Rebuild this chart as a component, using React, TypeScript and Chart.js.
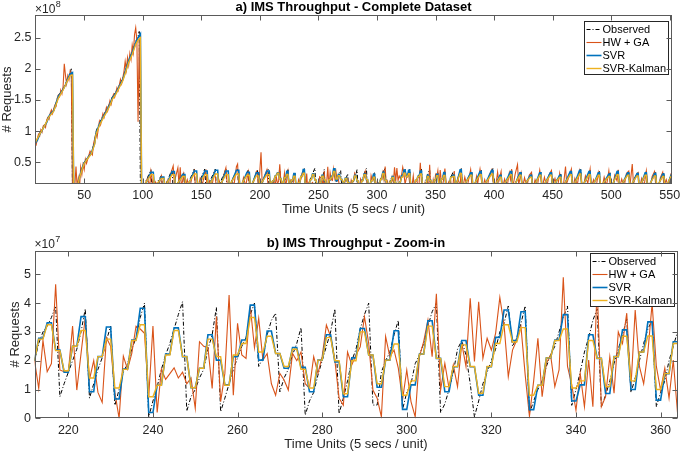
import React, { useEffect, useRef } from "react";
import { Chart, registerables } from "chart.js";

Chart.register(...registerables);

// ================= DATA (all values in units of 1e7 requests) =================
type Pt = [number, number];

// ---- b) Zoom-in window: one value per time unit, starting at ZOOM_START ----
const ZOOM_START = 212;

const observedZoom = [
  2.0, 2.6, 3.0, 3.2, 3.5, 3.9, 0.75, 1.2, 1.6, 2.0,
  2.4, 3.0, 3.8, 0.7, 1.2, 1.7, 2.1, 2.7, 3.2, 0.45,
  1.0, 1.6, 1.9, 2.4, 2.8, 3.5, 4.0, 0.05, 0.6, 1.1,
  1.7, 2.2, 2.6, 3.1, 3.6, 4.05, 0.25, 0.75, 1.0, 1.4,
  1.7, 2.4, 2.9, 3.85, 0.23, 0.7, 1.2, 1.7, 2.1, 2.5,
  2.8, 3.6, 4.0, 1.8, 2.1, 2.9, 3.4, 3.65, 0.92, 1.4,
  1.7, 2.2, 2.6, 3.15, 0.11, 0.6, 0.9, 1.5, 2.0, 2.5,
  3.0, 3.8, 0.16, 0.7, 1.3, 2.0, 2.4, 3.1, 3.6, 4.0,
  0.46, 0.46, 1.6, 2.0, 2.3, 2.9, 3.4, 0.3, 0.9, 1.2,
  1.9, 2.2, 2.6, 3.2, 3.7, 4.0, 0.2, 0.5, 1.0, 1.6,
  2.4, 2.7, 2.2, 1.2, 0.05, 0.6, 1.2, 1.6, 2.0, 2.4,
  3.0, 3.3, 3.9, 2.5, 2.8, 3.3, 3.9, 0.18, 0.6, 1.0,
  1.3, 1.8, 2.2, 2.5, 3.0, 3.5, 3.9, 0.45, 1.0, 1.6,
  2.3, 2.8, 3.4, 3.8, 0.4, 0.8, 1.3, 1.9, 2.4, 2.9,
  3.45, 0.9, 1.4, 2.0, 2.6, 3.1, 3.4, 0.4, 0.9, 1.3,
  2.0, 2.5, 3.0,
];

const hwgaZoom = [
  2.0, 1.04, 2.7, 1.62, 1.9, 4.65, 1.68, 1.62, 1.6, 3.2,
  0.98, 2.25, 3.5, 1.35, 2.0, 0.9, 0.55, 2.8, 2.5, 0.9,
  0.0, 2.16, 1.7, 2.25, 3.2, 3.1, 2.95, 0.75, 3.2, 0.2,
  1.7, 1.35, 1.55, 1.75, 1.4, 1.6, 1.2, 1.4, 0.35, 2.66,
  2.5, 2.45, 1.04, 3.53, 0.58, 1.56, 4.28, 0.8, 3.3, 2.2,
  2.08, 3.9, 2.45, 3.47, 2.02, 2.25, 1.2, 0.8, 1.56, 1.33,
  0.98, 2.25, 2.0, 2.3, 1.2, 1.04, 2.14, 1.56, 2.14, 3.24,
  2.84, 2.02, 0.7, 0.45, 2.3, 1.85, 2.2, 2.48, 3.53, 2.6,
  0.98, 0.7, 0.05, 2.84, 2.14, 2.37, 1.74, 0.64, 1.68, 0.58,
  0.05, 2.14, 2.66, 3.41, 2.14, 4.32, 0.98, 1.91, 1.04, 1.85,
  1.1, 2.6, 1.8, 4.17, 1.97, 4.05, 2.08, 2.78, 2.37, 2.95,
  4.2, 3.24, 1.45, 2.37, 2.72, 3.18, 1.5, 0.07, 1.3, 2.78,
  0.75, 1.91, 2.2, 1.1, 1.68, 4.9, 1.8, 1.16, 0.28, 1.56,
  0.4, 2.02, 0.4, 4.6, 0.4, 0.75, 2.14, 0.87, 3.0, 2.6,
  3.65, 1.1, 3.76, 1.8, 1.2, 2.3, 3.99, 1.8, 0.98, 1.74,
  0.7, 2.02, 0.2,
];

const svrZoom = [
  2.0,
  2.78, 2.78, 3.32, 3.32, 2.37, 2.37, 1.6, 1.6, 2.5, 2.5,
  3.53, 3.53, 0.92, 0.92, 2.14, 2.14, 3.17, 3.17, 0.67, 0.67,
  1.71, 1.71, 2.72, 2.72, 3.82, 3.82, 0.2, 0.2, 1.15, 1.15,
  2.23, 2.23, 3.14, 3.14, 2.14, 2.14, 1.06, 1.06, 1.74, 1.74,
  2.9, 2.9, 2.02, 2.02, 1.16, 1.16, 2.14, 2.14, 2.72, 2.72,
  3.93, 3.93, 2.02, 2.02, 3.03, 3.03, 2.25, 2.25, 1.74, 1.74,
  2.46, 2.46, 1.77, 1.77, 0.92, 0.92, 2.02, 2.02, 2.9, 2.9,
  1.96, 1.96, 0.75, 0.75, 2.1, 2.1, 3.12, 3.12, 2.2, 2.2,
  1.08, 1.08, 2.02, 2.02, 3.04, 3.04, 0.31, 0.31, 1.16, 1.16,
  2.23, 2.23, 3.39, 3.39, 2.08, 2.08, 0.92, 0.92, 1.79, 1.79,
  2.7, 2.7, 1.79, 1.79, 0.8, 0.8, 1.79, 1.79, 2.81, 2.81,
  3.76, 3.76, 2.7, 2.7, 3.7, 3.7, 0.3, 0.3, 1.15, 1.15,
  2.1, 2.1, 2.72, 2.72, 3.6, 3.6, 0.6, 0.6, 1.16, 1.16,
  2.9, 2.9, 2.08, 2.08, 0.86, 0.86, 2.14, 2.14, 3.07, 3.07,
  1.0, 1.0, 2.3, 2.3, 3.35, 3.35, 0.63, 0.63, 1.55, 1.55,
  2.66, 2.66,
];

const kalmanZoom = [
  2.0,
  2.75, 2.75, 3.25, 3.25, 2.35, 2.35, 1.65, 1.65, 2.5, 2.5,
  3.05, 3.05, 1.4, 1.4, 2.14, 2.14, 2.75, 2.75, 1.05, 1.05,
  1.7, 1.7, 2.7, 2.7, 3.25, 3.25, 0.75, 0.75, 1.15, 1.15,
  2.2, 2.2, 3.05, 3.05, 2.14, 2.14, 1.06, 1.06, 1.74, 1.74,
  2.75, 2.75, 2.14, 2.14, 1.15, 1.15, 2.2, 2.2, 2.6, 2.6,
  3.5, 3.5, 2.3, 2.3, 2.85, 2.85, 2.25, 2.25, 1.8, 1.8,
  2.4, 2.4, 1.7, 1.7, 1.05, 1.05, 2.02, 2.02, 2.8, 2.8,
  2.0, 2.0, 0.85, 0.85, 2.0, 2.0, 3.0, 3.0, 2.2, 2.2,
  1.2, 1.2, 2.02, 2.02, 2.58, 2.58, 0.8, 0.8, 1.3, 1.3,
  2.23, 2.23, 3.2, 3.2, 2.08, 2.08, 1.1, 1.1, 1.8, 1.8,
  2.55, 2.55, 1.8, 1.8, 0.87, 0.87, 1.8, 1.8, 2.6, 2.6,
  3.25, 3.25, 2.65, 2.65, 3.15, 3.15, 0.8, 0.8, 1.15, 1.15,
  2.1, 2.1, 2.7, 2.7, 3.1, 3.1, 1.05, 1.05, 1.3, 1.3,
  2.7, 2.7, 2.08, 2.08, 1.1, 1.1, 2.14, 2.14, 2.85, 2.85,
  1.3, 1.3, 2.3, 2.3, 2.86, 2.86, 1.0, 1.0, 1.55, 1.55,
  2.6, 2.6,
];

// ---- a) Complete dataset: readings [time unit, value] before and after the zoom window ----
const observedEarly: Pt[] = [
  [8, 8.0], [10, 8.6], [12, 9.7], [14, 10.2], [16, 10.9], [18, 11.5], [20, 12.6], [22, 13.0],
  [24, 13.3], [26, 14.6], [28, 15.8], [30, 16.2], [32, 16.8], [34, 17.5], [36, 18.6], [38, 19.4],
  [39, 20.0], [40, 1.0], [41, 0.5], [43, 0.8], [45, 1.5], [46, 2.7], [48, 4.0], [50, 5.0],
  [53, 5.8], [56, 6.5], [59, 8.3], [60, 9.9], [63, 11.3], [66, 12.4], [69, 13.4], [72, 14.5],
  [74, 15.5], [77, 16.3], [80, 17.4], [83, 18.5], [86, 20.4], [88, 21.5], [91, 22.8], [94, 24.4],
  [96, 25.2], [97, 26.0], [98, 1.0], [100, 0.8], [107, 3.8], [108, 0.4], [116, 2.9], [117, 0.3],
  [125, 3.8], [126, 0.5], [135, 3.3], [136, 0.3], [144, 3.9], [145, 0.4], [153, 3.9], [154, 0.5],
  [162, 3.9], [163, 0.3], [171, 3.9], [172, 0.6], [181, 3.9], [182, 0.3], [190, 3.7], [191, 0.4],
  [198, 3.7], [199, 0.6], [207, 3.9], [208, 0.4], [210, 1.2],
];

const observedLate: Pt[] = [
  [365, 3.4], [366, 0.5], [368, 1.6], [370, 2.8], [372, 4.0], [373, 0.4], [376, 1.8], [379, 2.9],
  [381, 3.5], [382, 0.6], [385, 2.0], [387, 2.9], [389, 3.7], [390, 0.3], [393, 1.5], [396, 2.7],
  [399, 4.0], [400, 0.5], [403, 2.2], [406, 3.1], [407, 0.4], [410, 1.6], [413, 2.8], [415, 3.7],
  [416, 0.3], [419, 2.0], [421, 2.8], [423, 3.5], [424, 0.5], [427, 1.5], [430, 2.6], [432, 3.1],
  [433, 0.2], [436, 1.8], [438, 2.6], [440, 3.5], [441, 0.4], [444, 1.6], [447, 2.8], [449, 3.5],
  [450, 0.6], [453, 2.0], [455, 2.5], [457, 3.1], [458, 0.3], [461, 1.8], [464, 2.9], [466, 3.7],
  [467, 0.4], [470, 2.0], [472, 3.0], [474, 4.0], [475, 0.5], [478, 1.9], [480, 2.8], [482, 3.7],
  [483, 0.3], [486, 1.7], [488, 2.6], [490, 3.5], [491, 0.6], [494, 1.6], [497, 2.7], [499, 3.3],
  [500, 0.4], [503, 2.2], [505, 2.9], [506, 3.7], [507, 0.3], [510, 1.5], [513, 2.7], [515, 3.5],
  [516, 0.5], [519, 2.1], [521, 2.8], [523, 3.4], [524, 0.4], [527, 2.0], [529, 2.9], [530, 3.5],
  [531, 0.3], [534, 1.8], [536, 2.7], [538, 3.4], [539, 0.5], [542, 2.1], [544, 2.8], [545, 3.3],
  [546, 0.4], [549, 1.9], [552, 3.4],
];

const hwgaEarly: Pt[] = [
  [8, 8.0], [9, 7.8], [10, 8.8], [11, 9.5], [12, 9.2], [13, 10.2], [14, 9.8], [15, 10.8], [16, 11.0],
  [17, 10.6], [18, 11.8], [19, 12.2], [20, 11.9], [21, 12.9], [22, 13.4], [23, 12.8], [24, 13.6],
  [25, 14.2], [26, 14.0], [27, 15.3], [28, 15.8], [29, 15.5], [30, 16.6], [31, 16.0], [32, 17.2],
  [33, 20.8], [34, 19.0], [35, 17.6], [36, 18.9], [37, 18.2], [38, 19.6], [39, 19.0], [40, 1.0],
  [41, 0.3], [42, 1.2], [43, 4.3], [44, 1.0], [45, 2.4], [46, 0.8], [47, 4.2], [48, 3.0], [49, 4.6],
  [50, 3.8], [51, 5.5], [52, 4.8], [53, 5.5], [55, 6.8], [57, 6.2], [58, 8.0], [60, 9.6], [61, 9.0],
  [63, 11.6], [64, 11.0], [66, 12.8], [67, 12.2], [69, 13.8], [70, 13.2], [72, 14.9], [73, 14.3],
  [75, 15.9], [76, 15.4], [78, 17.0], [79, 16.5], [81, 18.3], [82, 17.6], [84, 19.6], [85, 21.2],
  [86, 19.8], [87, 21.8], [88, 20.6], [89, 22.5], [90, 21.5], [91, 23.8], [92, 22.6], [93, 25.5],
  [94, 26.6], [95, 24.5], [96, 11.5], [97, 24.8], [98, 13.0], [99, 0.5],
  [100, 0.3], [102, 1.5], [104, 2.4], [106, 1.2], [107, 3.5], [108, 2.2], [109, 0.5], [111, 1.8],
  [113, 0.6], [115, 2.2], [116, 2.8], [117, 1.0], [119, 0.4], [121, 2.0], [123, 1.2], [124, 3.2],
  [126, 4.4], [127, 1.5], [128, 2.6], [130, 4.1], [131, 1.2], [132, 4.2], [133, 1.0], [135, 3.0],
  [136, 0.8], [138, 2.2], [140, 0.6], [142, 2.6], [144, 3.6], [145, 1.2], [147, 0.5], [149, 2.4],
  [151, 1.5], [153, 3.2], [154, 3.6], [155, 0.8], [157, 2.0], [159, 1.0], [161, 3.3], [162, 2.5],
  [163, 0.6], [165, 2.2], [167, 1.0], [169, 2.8], [171, 4.1], [172, 1.8], [174, 0.5], [176, 2.0],
  [178, 1.4], [180, 4.3], [181, 4.7], [182, 1.0], [184, 0.4], [186, 2.5], [188, 1.2], [190, 3.4],
  [191, 1.5], [193, 0.6], [195, 2.1], [197, 3.5], [198, 3.0], [199, 0.8], [201, 6.6], [202, 1.5],
  [204, 2.8], [206, 3.8], [207, 1.2], [209, 2.0], [211, 1.1],
];

const hwgaLate: Pt[] = [
  [365, 1.5], [366, 3.6], [367, 0.8], [369, 2.4], [371, 1.2], [372, 3.9], [373, 0.6], [375, 2.6],
  [377, 1.0], [379, 2.9], [380, 3.8], [381, 1.5], [383, 0.5], [385, 2.7], [386, 1.6], [388, 3.9],
  [389, 2.6], [390, 0.6], [392, 2.2], [394, 0.8], [396, 3.0], [398, 3.8], [399, 2.0], [401, 0.5],
  [403, 3.4], [404, 1.9], [406, 3.5], [407, 0.7], [409, 2.3], [411, 0.9], [413, 3.3], [414, 2.2],
  [415, 3.9], [416, 1.0], [418, 3.1], [420, 4.6], [421, 1.4], [423, 3.2], [424, 0.6], [426, 2.5],
  [428, 1.1], [430, 2.9], [432, 3.4], [433, 0.5], [435, 2.2], [437, 1.2], [439, 3.7], [440, 2.4],
  [441, 0.8], [443, 2.6], [445, 1.0], [447, 3.0], [449, 3.7], [450, 1.1], [452, 2.4], [454, 0.7],
  [456, 3.2], [457, 1.8], [459, 0.9], [461, 4.3], [462, 1.6], [464, 2.7], [466, 3.9], [467, 0.6],
  [469, 2.4], [471, 1.3], [473, 3.6], [474, 2.5], [476, 0.8], [478, 2.8], [480, 1.6], [482, 3.9],
  [483, 1.0], [485, 2.2], [487, 0.8], [489, 3.3], [490, 2.2], [492, 0.7], [494, 2.6], [496, 1.2],
  [498, 3.6], [499, 1.7], [501, 0.5], [503, 2.9], [505, 2.0], [506, 3.8], [507, 0.8], [509, 2.3],
  [511, 1.0], [513, 3.2], [515, 3.6], [516, 1.2], [518, 4.7], [519, 1.5], [521, 2.8], [523, 3.3],
  [524, 0.6], [526, 2.4], [528, 1.1], [530, 3.6], [531, 1.8], [533, 0.7], [535, 2.7], [537, 3.5],
  [538, 1.4], [540, 0.6], [542, 2.5], [544, 3.4], [545, 1.2], [547, 2.2], [549, 0.8], [551, 3.0],
  [552, 2.6],
];

const svrEarly: Pt[] = [
  [8, 8.0], [10, 8.5], [12, 9.5], [14, 10.1], [16, 10.8], [18, 11.4], [20, 12.4], [22, 12.9],
  [24, 13.3], [26, 14.4], [28, 15.6], [30, 16.1], [32, 16.7], [34, 17.4], [36, 18.4], [38, 19.2],
  [40, 19.4], [41, 1.2], [42, 0.6], [44, 0.8], [46, 2.6], [48, 3.9], [50, 4.9], [53, 5.7], [56, 6.4],
  [59, 8.1], [60, 9.6], [63, 11.1], [66, 12.2], [69, 13.2], [72, 14.3], [74, 15.3], [77, 16.1],
  [80, 17.2], [83, 18.3], [86, 20.1], [88, 21.3], [91, 22.6], [94, 24.2], [96, 25.0], [98, 25.6],
  [99, 1.2], [101, 0.8], [107, 3.4], [109, 3.4], [110, 0.6], [116, 2.6], [118, 2.6], [119, 0.7],
  [125, 3.5], [127, 3.5], [128, 0.8], [134, 3.0], [136, 3.0], [137, 0.5], [144, 3.6], [146, 3.6],
  [147, 0.8], [153, 3.6], [155, 3.6], [156, 0.6], [162, 3.7], [164, 3.7], [165, 0.5], [171, 3.6],
  [173, 3.6], [174, 0.9], [180, 3.7], [182, 3.7], [183, 0.6], [189, 3.4], [191, 3.4], [192, 0.7],
  [197, 3.3], [199, 3.3], [200, 0.9], [206, 3.6], [208, 3.6], [209, 1.0], [211, 2.0],
];

const svrLate: Pt[] = [
  [365, 2.9], [366, 2.9], [367, 0.7], [371, 3.8], [372, 3.8], [373, 0.6], [380, 3.3], [381, 3.3],
  [382, 0.8], [388, 3.5], [389, 3.5], [390, 0.5], [398, 3.7], [399, 3.7], [400, 0.7], [405, 2.9],
  [406, 2.9], [407, 0.6], [414, 3.5], [415, 3.5], [416, 0.5], [422, 3.3], [423, 3.3], [424, 0.7],
  [431, 2.9], [432, 2.9], [433, 0.4], [439, 3.3], [440, 3.3], [441, 0.6], [448, 3.3], [449, 3.3],
  [450, 0.8], [456, 2.9], [457, 2.9], [458, 0.5], [465, 3.5], [466, 3.5], [467, 0.6], [473, 3.7],
  [474, 3.7], [475, 0.7], [481, 3.5], [482, 3.5], [483, 0.5], [489, 3.3], [490, 3.3], [491, 0.8],
  [498, 3.1], [499, 3.1], [500, 0.6], [505, 3.5], [506, 3.5], [507, 0.5], [514, 3.3], [515, 3.3],
  [516, 0.7], [522, 3.2], [523, 3.2], [524, 0.6], [529, 3.3], [530, 3.3], [531, 0.5], [537, 3.2],
  [538, 3.2], [539, 0.7], [544, 3.1], [545, 3.1], [546, 0.6], [549, 1.8], [551, 2.9], [552, 2.9],
];

const kalmanEarly: Pt[] = [
  [8, 8.1], [12, 9.5], [16, 10.8], [20, 12.3], [24, 13.2], [28, 15.3], [32, 16.6], [36, 18.2],
  [38, 18.9], [40, 19.0], [41, 1.5], [42, 0.9], [44, 1.0], [46, 2.5], [48, 3.7], [50, 4.8], [53, 5.6],
  [56, 6.3], [59, 7.9], [60, 9.4], [63, 10.9], [66, 12.0], [69, 13.0], [72, 14.1], [74, 15.1],
  [77, 15.9], [80, 17.0], [83, 18.1], [86, 19.8], [88, 21.0], [91, 22.3], [94, 23.9], [96, 24.6],
  [98, 25.0], [99, 1.5], [101, 1.2], [107, 3.0], [109, 3.0], [110, 1.1], [116, 2.4], [118, 2.4],
  [119, 1.1], [125, 3.0], [127, 3.0], [128, 1.2], [134, 2.7], [136, 2.7], [137, 1.0], [144, 3.1],
  [146, 3.1], [147, 1.2], [153, 3.0], [155, 3.0], [156, 1.0], [162, 3.1], [164, 3.1], [165, 1.0],
  [171, 3.0], [173, 3.0], [174, 1.3], [180, 3.1], [182, 3.1], [183, 1.1], [189, 2.9], [191, 2.9],
  [192, 1.1], [197, 2.8], [199, 2.8], [200, 1.3], [206, 3.0], [208, 3.0], [209, 1.4], [211, 2.0],
];

const kalmanLate: Pt[] = [
  [365, 2.7], [366, 2.7], [367, 1.1], [371, 3.2], [372, 3.2], [373, 1.0], [380, 2.9], [381, 2.9],
  [382, 1.2], [388, 3.0], [389, 3.0], [390, 0.9], [398, 3.1], [399, 3.1], [400, 1.1], [405, 2.6],
  [406, 2.6], [407, 1.0], [414, 3.0], [415, 3.0], [416, 0.9], [422, 2.9], [423, 2.9], [424, 1.1],
  [431, 2.6], [432, 2.6], [433, 0.8], [439, 2.9], [440, 2.9], [441, 1.0], [448, 2.9], [449, 2.9],
  [450, 1.2], [456, 2.6], [457, 2.6], [458, 0.9], [465, 3.0], [466, 3.0], [467, 1.0], [473, 3.1],
  [474, 3.1], [475, 1.1], [481, 3.0], [482, 3.0], [483, 0.9], [489, 2.9], [490, 2.9], [491, 1.2],
  [498, 2.7], [499, 2.7], [500, 1.0], [505, 3.0], [506, 3.0], [507, 0.9], [514, 2.9], [515, 2.9],
  [516, 1.1], [522, 2.8], [523, 2.8], [524, 1.0], [529, 2.9], [530, 2.9], [531, 0.9], [537, 2.8],
  [538, 2.8], [539, 1.1], [544, 2.7], [545, 2.7], [546, 1.0], [549, 1.9], [551, 2.7], [552, 2.7],
];

// ---- ticks / labels ----
const topXTicks = [50, 100, 150, 200, 250, 300, 350, 400, 450, 500, 550];
const topYTicks = [0.5, 1, 1.5, 2, 2.5]; // x 1e8
const bottomXTicks = [220, 240, 260, 280, 300, 320, 340, 360];
const bottomYTicks = [0, 1, 2, 3, 4, 5]; // x 1e7

const seriesLabels = ["Observed", "HW + GA", "SVR", "SVR-Kalman"];
const topTitle = "a) IMS Throughput - Complete Dataset";
const bottomTitle = "b) IMS Throughput - Zoom-in";
const xAxisTitle = "Time Units (5 secs / unit)";
const yAxisTitle = "# Requests";

// ================= STYLE =================
const FONT = '"Liberation Sans", Arial, Helvetica, sans-serif';
const INK = "#262626";
const FRAME = "#5a5a5a";
const TICK = 5;

const STYLES = [
  { color: "#000000", width: 1, dash: [4, 2, 1, 2] },
  { color: "#D95319", width: 1.1, dash: [] as number[] },
  { color: "#0072BD", width: 1.6, dash: [] as number[] },
  { color: "#EDB120", width: 1.4, dash: [] as number[] },
];

function toPoints(early: Pt[], zoom: number[], late: Pt[], divisor: number) {
  return [
    ...early.map(([x, y]) => ({ x, y: y / divisor })),
    ...zoom.map((y, i) => ({ x: ZOOM_START + i, y: y / divisor })),
    ...late.map(([x, y]) => ({ x, y: y / divisor })),
  ];
}

const matlabFrame = {
  id: "matlabFrame",
  afterDraw(chart: any, _args: any, o: any) {
    const { ctx, chartArea: a } = chart;
    const xs = chart.scales.x;
    const ys = chart.scales.y;
    ctx.save();
    const L = Math.round(a.left) + 0.5;
    const R = Math.round(a.right) - 0.5;
    const T = Math.round(a.top) + 0.5;
    const B = Math.round(a.bottom) - 0.5;

    // legend (drawn over data, as in MATLAB)
    const lw = 84;
    const lh = 53;
    const lx = Math.round(a.right - 4 - lw) + 0.5;
    const ly = Math.round(o.legendTop) + 0.5;
    ctx.fillStyle = "#ffffff";
    ctx.fillRect(lx, ly, lw, lh);
    ctx.lineWidth = 1;
    ctx.strokeStyle = INK;
    ctx.strokeRect(lx, ly, lw, lh);
    ctx.font = `11px ${FONT}`;
    ctx.textBaseline = "middle";
    ctx.textAlign = "left";
    seriesLabels.forEach((label, i) => {
      const st = STYLES[i];
      const y = Math.round(ly + 7 + i * 13.2) + 0.5;
      ctx.beginPath();
      ctx.setLineDash(st.dash);
      ctx.strokeStyle = st.color;
      ctx.lineWidth = st.width;
      ctx.moveTo(lx + 2, y);
      ctx.lineTo(lx + 17, y);
      ctx.stroke();
      ctx.setLineDash([]);
      ctx.fillStyle = "#000000";
      ctx.fillText(label, lx + 18, y);
    });

    // frame + inward ticks on all four sides
    ctx.strokeStyle = FRAME;
    ctx.lineWidth = 1;
    ctx.strokeRect(L, T, R - L, B - T);
    ctx.beginPath();
    for (const t of xs.ticks) {
      const p = Math.round(xs.getPixelForValue(t.value)) + 0.5;
      ctx.moveTo(p, B);
      ctx.lineTo(p, B - TICK);
      ctx.moveTo(p, T);
      ctx.lineTo(p, T + TICK);
    }
    for (const t of ys.ticks) {
      const p = Math.round(ys.getPixelForValue(t.value)) + 0.5;
      ctx.moveTo(L, p);
      ctx.lineTo(L + TICK, p);
      ctx.moveTo(R, p);
      ctx.lineTo(R - TICK, p);
    }
    ctx.stroke();

    // title
    const cx = (a.left + a.right) / 2;
    ctx.fillStyle = "#000000";
    ctx.font = `bold 13px ${FONT}`;
    ctx.textAlign = "center";
    ctx.textBaseline = "middle";
    ctx.fillText(o.title, cx, o.titleY);

    // axis titles
    ctx.fillStyle = INK;
    ctx.font = `13px ${FONT}`;
    ctx.fillText(xAxisTitle, cx, o.xLabelY);
    ctx.save();
    ctx.translate(o.yLabelX, (a.top + a.bottom) / 2);
    ctx.rotate(-Math.PI / 2);
    ctx.fillText(yAxisTitle, 0, 0);
    ctx.restore();

    // exponent label
    ctx.textAlign = "left";
    ctx.textBaseline = "alphabetic";
    ctx.font = `12px ${FONT}`;
    ctx.fillText("\u00d710", a.left, o.expY);
    const w = ctx.measureText("\u00d710").width;
    ctx.font = `9px ${FONT}`;
    ctx.fillText(o.exponent, a.left + w + 0.5, o.expY - 6);
    ctx.restore();
  },
};

function makeChart(canvas: HTMLCanvasElement, cfg: any) {
  const datasets = cfg.series
    .map((pts: any[], i: number) => ({
      label: seriesLabels[i],
      data: pts,
      borderColor: STYLES[i].color,
      borderWidth: STYLES[i].width,
      borderDash: STYLES[i].dash,
      pointRadius: 0,
      tension: 0,
      fill: false,
    }))
    .reverse(); // first dataset drawn on top in Chart.js -> keep MATLAB plot order
  return new Chart(canvas, {
    type: "line",
    data: { datasets },
    plugins: [matlabFrame],
    options: {
      animation: false,
      responsive: false,
      devicePixelRatio: 1,
      events: [],
      layout: { padding: { left: 0, right: cfg.padRight, top: cfg.padTop, bottom: 0 } },
      plugins: {
        legend: { display: false },
        tooltip: { enabled: false },
        title: { display: false },
        matlabFrame: cfg.frame,
      } as any,
      scales: {
        x: {
          type: "linear",
          min: cfg.xMin,
          max: cfg.xMax,
          grid: { display: false, drawTicks: false },
          border: { display: false },
          ticks: {
            autoSkip: false,
            maxRotation: 0,
            minRotation: 0,
            padding: 4.8,
            color: INK,
            font: { family: FONT, size: 12.5 },
            callback: (v: any) => String(v),
          },
          afterBuildTicks: (s: any) => {
            s.ticks = cfg.xTicks.map((v: number) => ({ value: v }));
          },
          afterFit: (s: any) => {
            s.height = cfg.xAxisHeight;
          },
        },
        y: {
          type: "linear",
          min: cfg.yMin,
          max: cfg.yMax,
          grid: { display: false, drawTicks: false },
          border: { display: false },
          ticks: {
            autoSkip: false,
            padding: 3.5,
            color: INK,
            font: { family: FONT, size: 12.5 },
            callback: (v: any) => String(v),
          },
          afterBuildTicks: (s: any) => {
            s.ticks = cfg.yTicks.map((v: number) => ({ value: v }));
          },
          afterFit: (s: any) => {
            s.width = cfg.yAxisWidth;
          },
        },
      } as any,
    } as any,
  });
}

export default function App() {
  const topRef = useRef<HTMLCanvasElement>(null);
  const botRef = useRef<HTMLCanvasElement>(null);

  useEffect(() => {
    const top = makeChart(topRef.current!, {
      series: [
        toPoints(observedEarly, observedZoom, observedLate, 10),
        toPoints(hwgaEarly, hwgaZoom, hwgaLate, 10),
        toPoints(svrEarly, svrZoom, svrLate, 10),
        toPoints(kalmanEarly, kalmanZoom, kalmanLate, 10),
      ],
      xMin: 8,
      xMax: 552,
      yMin: 0.155,
      yMax: 2.86,
      xTicks: topXTicks,
      yTicks: topYTicks,
      padTop: 15.3,
      padRight: 7.5,
      yAxisWidth: 35,
      xAxisHeight: 36.3,
      frame: {
        title: topTitle,
        titleY: 7,
        xLabelY: 209,
        yLabelX: 7.5,
        expY: 13.3,
        exponent: "8",
        legendTop: 20.7,
      },
    });
    const bottom = makeChart(botRef.current!, {
      series: [
        toPoints([], observedZoom, [], 1),
        toPoints([], hwgaZoom, [], 1),
        toPoints([], svrZoom, [], 1),
        toPoints([], kalmanZoom, [], 1),
      ],
      xMin: 212,
      xMax: 364,
      yMin: 0,
      yMax: 5.82,
      xTicks: bottomXTicks,
      yTicks: bottomYTicks,
      padTop: 30.7,
      padRight: 7.5,
      yAxisWidth: 34.5,
      xAxisHeight: 34.7,
      frame: {
        title: bottomTitle,
        titleY: 23.5,
        xLabelY: 224,
        yLabelX: 15.8,
        expY: 28.3,
        exponent: "7",
        legendTop: 33.3,
      },
    });
    return () => {
      top.destroy();
      bottom.destroy();
    };
  }, []);

  return (
    <div
      style={{
        position: "fixed",
        left: 0,
        top: 0,
        width: 685,
        height: 453,
        background: "#ffffff",
        overflow: "hidden",
      }}
    >
      <canvas
        ref={topRef}
        width={685}
        height={220}
        style={{ position: "absolute", left: 0, top: 0, display: "block" }}
      />
      <canvas
        ref={botRef}
        width={685}
        height={233}
        style={{ position: "absolute", left: 0, top: 220, display: "block" }}
      />
    </div>
  );
}
